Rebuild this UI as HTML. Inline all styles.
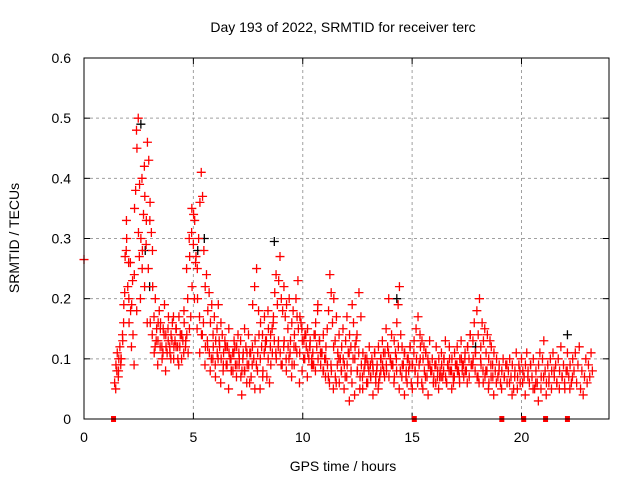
<!DOCTYPE html>
<html><head><meta charset="utf-8"><style>
body{margin:0;background:#fff;}
svg{display:block;font-family:"Liberation Sans",sans-serif;}
</style></head><body>
<svg id="chart" width="640" height="480">
<rect width="640" height="480" fill="#fff"/>
<text x="343" y="32" font-size="14" text-anchor="middle">Day 193 of 2022, SRMTID for receiver terc</text>
<text x="343" y="471" font-size="14" text-anchor="middle">GPS time / hours</text>
<text transform="translate(19,238) rotate(-90)" font-size="14" text-anchor="middle">SRMTID / TECUs</text>
<g id="grid"></g>
<g id="ticks"></g>
<g id="marks"></g>
<rect x="84" y="58" width="525" height="361" fill="none" stroke="#000" stroke-width="1"/>
</svg>
<script>
const xTicks = [0,5,10,15,20];
const yTicks = [0,0.1,0.2,0.3,0.4,0.5,0.6];
const yTickLabels = ["0","0.1","0.2","0.3","0.4","0.5","0.6"];
const tStartA = 1.4, tStepA = 0.06;
const valuesA = [.06,.09,.11,.08,.12,.10,.14,.19,.27,.33,
.22,.16,.26,.19,.14,.24,.38,.45,.50,.39,.30,.25,.34,.37,.29,.46,.43,
.36,.31,.22,.17,.20,.15,.13,.18,.16,.12,.15,.19,.14,.11,.17,.12,.14,
.16,.10,.13,.15,.12,.17,.14,.10,.13,.16,.12,.14,.11,.15,.17,.22,.29,
.33,.27,.25,.30,.36,.41,.37,.28,.22,.24,.18,.21,.16,.19,.14,.17,.13,
.15,.19,.12,.16,.14,.11,.13,.09,.12,.15,.10,.08,.11,.13,.09,.12,.14,
.10,.13,.08,.11,.15,.12,.09,.14,.11,.07,.12,.10,.13,.09,.11,.14,.10,
.12,.08,.11,.13,.07,.10,.06,.09,.15,.17,.21,.24,.19,.23,.27,.20,.18,
.22,.17,.19,.15,.20,.13,.16,.18,.14,.12,.17,.15,.11,.16,.13,.10,.14,
.12,.15,.10,.13,.09,.11,.14,.08,.12,.10,.13,.09,.11,.14,.10,.12,.15,
.18,.24,.21,.16,.20,.13,.17,.11,.14,.10,.12,.15,.09,.13,.17,.11,.14,
.12,.19,.16,.10,.13,.08,.11,.07,.09,.05,.08,.10,.06,.09,.12,.07,.10,
.08,.11,.06,.09,.12,.07,.10,.13,.08,.11,.09,.12,.07,.10,.14,.09,.13,
.11,.16,.19,.22,.14,.12,.09,.11,.07,.10,.08,.12,.06,.09,.11,.08,.10,
.07,.09,.12,.06,.10,.08,.11,.07,.09,.13,.08,.10,.06,.09,.12,.07,.10,
.08,.11,.07,.10,.13,.06,.09,.12,.08,.10,.07,.11,.09,.12,.08,.10,.13,
.09,.07,.11,.08,.12,.10,.14,.09,.13,.16,.11,.18,.14,.20,.12,.16,.13,
.15,.11,.14,.10,.13,.12,.09,.11,.08,.10,.07,.09,.06,.08,.10,.07,.09,
.06,.08,.10,.07,.09,.05,.08,.11,.07,.09,.06,.10,.08,.07,.09,.11,.08,
.06,.09,.07,.10,.05,.08,.06,.09,.11,.07,.10,.13,.08,.06,.09,.07,.10,
.08,.11,.07,.09,.06,.10,.08,.12,.07,.09,.05,.08,.11,.07,.09,.06,.10,
.08,.11,.06,.09,.12,.05,.08,.04,.07,.10,.06,.09,.07,.11,.08];
const tStartB = 1.45, tStepB = 0.12;
const valuesB = [.05,.07,.10,.16,.28,
.20,.12,.09,.18,.27,.40,.22,.16,.33,.28,
.12,.09,.15,.11,.08,.13,.10,.17,.12,.09,.14,.18,
.25,.30,.35,.20,.15,.11,.14,.09,.12,.08,.10,
.07,.10,.06,.09,.12,.05,.08,.11,.07,.09,.04,.08,.11,.06,.09,.05,
.08,.05,.07,.12,.18,.14,.16,.11,.13,.09,.12,.08,
.10,.07,.09,.11,.06,.08,.10,.07,.12,.09,.14,.19,.11,.08,.10,
.07,.09,.12,.06,.10,.08,.05,.07,.03,.06,.04,.08,.05,.07,.10,.06,
.09,.04,.07,.05,.08,.11,.15,.20,.09,.06,.08,.05,
.07,.04,.06,.09,.05,.08,.06,.10,.05,.07,.04,.08,.06,.09,.05,.07,.10,.06,.08,.05,.07,.09,.06,
.08,.10,.12,.14,.09,.11,.07,.10,.06,.08,
.05,.07,.04,.06,.08,.05,.07,.09,.06,.04,.07,.05,.08,.06,.04,.07,.09,.05,.06,.03,.05,.07,.04,.06,.05,.08,.06,.05,.07,.06,.08,.05,.07];
const tStartC = 1.5, tStepC = 0.09;
const valuesC = [.08,.10,.09,.13,.21,.30,.26,.18,.23,.35,.48,.31,.20,.28,.42,.33,.25,.16,
.14,.11,.13,.16,.12,.10,.14,.12,.15,.11,.13,.12,.15,.10,.12,.14,.11,.13,.20,.27,.31,.34,.26,.20,
.17,.14,.16,.12,.13,.11,.10,.12,.09,.11,.13,.10,.08,.12,.09,.11,.10,.08,.12,.09,.11,.07,.10,.08,.06,.09,.11,
.19,.22,.25,.18,.16,.14,.17,.13,.15,.12,.11,.13,.10,.12,.11,.09,.13,.10,.12,.11,.09,.12,
.20,.23,.17,.15,.13,.14,.11,.12,.10,.09,.16,.18,.13,.11,.08,.07,.09,.06,.08,.05,.07,.09,.06,
.08,.10,.07,.09,.11,.08,.10,.12,.14,.21,.17,.11,.09,.10,.08,.07,.09,.11,.08,.06,.10,.09,.07,.08,.11,.10,.09,
.07,.10,.12,.08,.09,.11,.08,.10,.12,.09,.13,.15,.17,.14,.13,.12,.11,.10,.09,.08,.07,.06,.08,.07,.09,
.08,.07,.09,.10,.08,.06,.09,.08,.07,.10,.09,.08,.06,.07,.09,.10,.08,.07,.06,.09,.08,.07,.08,.06,.09,.07];
const blackTimes = [2.6,2.8,3.0,5.2,5.5,8.7,14.3,17.9,22.1];
const blackValues = [0.49,0.28,0.22,0.28,0.30,0.295,0.20,0.12,0.14];
const extraTimes = [0];
const extraValues = [0.265];
const squareTimes = [1.35,15.1,19.1,20.1,21.1,22.1];

const X0=84,X1=609,Y0=419,Y1=58;
const xs = t => X0 + t/24*(X1-X0);
const ys = v => Y0 - v/0.6*(Y0-Y1);
const NS="http://www.w3.org/2000/svg";
const grid=document.getElementById('grid'), ticks=document.getElementById('ticks'), marks=document.getElementById('marks');
function mk(tag,attrs,parent){const e=document.createElementNS(NS,tag);for(const k in attrs)e.setAttribute(k,attrs[k]);parent.appendChild(e);return e;}
xTicks.forEach(t=>{
  const x=xs(t);
  if(t>0){const g=mk('line',{x1:x,x2:x,y1:Y1,y2:Y0,stroke:'#a0a0a0','stroke-dasharray':'3,3'},grid);
  
  }
  mk('line',{x1:x,x2:x,y1:Y0,y2:Y0-6,stroke:'#000'},ticks);
  mk('line',{x1:x,x2:x,y1:Y1,y2:Y1+6,stroke:'#000'},ticks);
  const l=mk('text',{x:x,y:442,'font-size':14,'text-anchor':'middle'},ticks);
  l.textContent=String(t);
  
  
});
yTicks.forEach((v,i)=>{
  const y=ys(v);
  if(v>0&&v<0.6){const g=mk('line',{x1:X0,x2:X1,y1:y,y2:y,stroke:'#a0a0a0','stroke-dasharray':'3,3'},grid);
  
  }
  mk('line',{x1:X0,x2:X0+6,y1:y,y2:y,stroke:'#000'},ticks);
  mk('line',{x1:X1,x2:X1-6,y1:y,y2:y,stroke:'#000'},ticks);
  const l=mk('text',{x:71,y:y+5,'font-size':14,'text-anchor':'end'},ticks);
  l.textContent=yTickLabels[i];
  
  
});
function plus(t,v,color){
  const x=xs(t),y=ys(v);
  const p=mk('path',{d:`M${x-4.5},${y}H${x+4.5}M${x},${y-4.5}V${y+4.5}`,stroke:color,'stroke-width':1.3,fill:'none'},marks);
  
  
}
blackTimes.forEach((t,i)=>plus(t,blackValues[i],'#000'));
valuesC.forEach((v,i)=>plus(tStartC+i*tStepC,v,'#f00'));
valuesB.forEach((v,i)=>plus(tStartB+i*tStepB,v,'#f00'));
valuesA.forEach((v,i)=>plus(tStartA+i*tStepA,v,'#f00'));
extraTimes.forEach((t,i)=>plus(t,extraValues[i],'#f00'));
squareTimes.forEach(t=>{
  const r=mk('rect',{x:xs(t)-2.5,y:Y0-3,width:5,height:6,fill:'#f00'},marks);
  
  
});
</script>
</body></html>
